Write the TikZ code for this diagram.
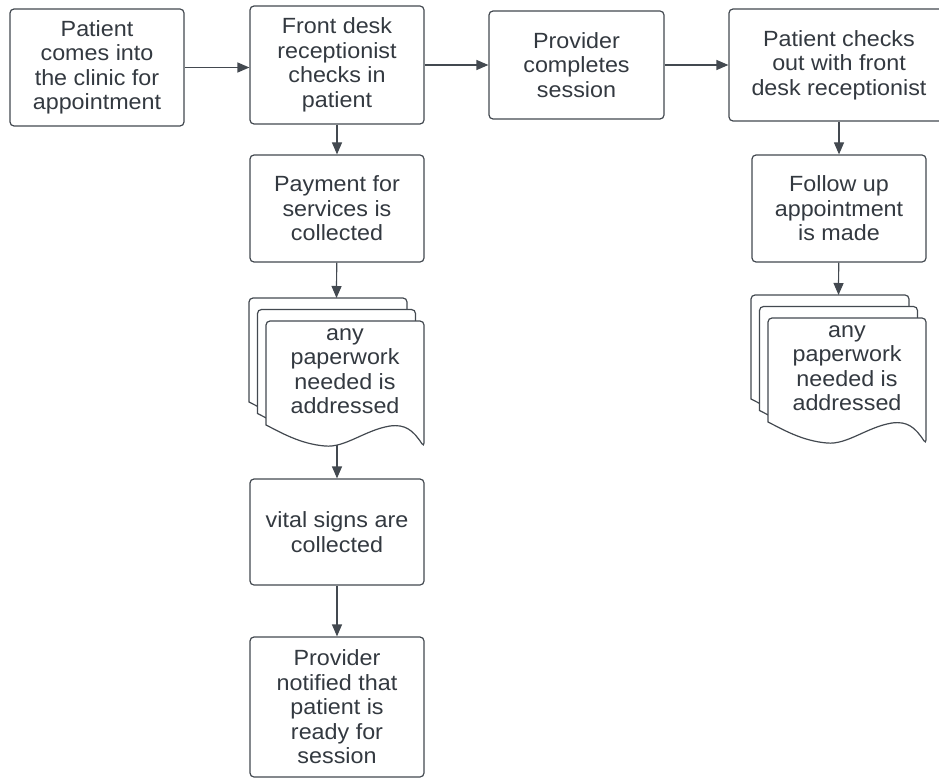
\documentclass[tikz,border=0pt]{standalone}
\usepackage{fontspec}
\setmainfont{Liberation Sans}[FakeStretch=1.06]
\usetikzlibrary{arrows.meta, positioning}

\definecolor{edgegray}{HTML}{434950}
\definecolor{textgray}{HTML}{333940}

\tikzset{
    box/.style = {draw=edgegray, line width=1.2pt, rounded corners=4pt, fill=white,
        align=center, text=textgray, font=\fontsize{22}{24.5}\selectfont, inner sep=0pt,
        minimum width=174pt, minimum height=107pt},
    flow/.style = {draw=edgegray, line width=1.2pt, -{Triangle[length=12pt, width=10pt]}},
    sheet/.style = {draw=edgegray, line width=1.2pt, fill=white},
    papertext/.style = {align=center, text=textgray, font=\fontsize{22}{24.5}\selectfont, inner sep=0pt},
    paperstack/.pic = {
        \foreach \dx/\dy in {-17/23, -8.5/11.5, 0/0}
            \draw [sheet, shift={(\dx,\dy)}] [rounded corners=4pt] (-79,-59) -- (-79,45) -- (79,45) -- (79,-81)
                [sharp corners] .. controls (68,-64) and (60,-58) .. (45,-60)
                .. controls (20,-64) and (0,-82) .. (-20,-80)
                .. controls (-45,-78) and (-65,-66) .. (-79,-59) -- cycle;
        \node (-t) [papertext] at (0,-5) {#1};
        \coordinate (-top) at (-8.5,68);
        \coordinate (-bot) at (-8,-79);
    }
}

\begin{document}
\begin{tikzpicture} [x=1pt, y=1pt, node distance = 143.5pt, on grid]
    \useasboundingbox (0,0) rectangle (939,-778);
    \clip (0,0) rectangle (939,-778);

    \node (arrive) [box, minimum height=117pt] at (97,-67.5) {Patient\\comes into\\the clinic for\\appointment};
    \node (checkin) [box, minimum height=118pt] at (337,-65) {Front desk\\receptionist\\checks in\\patient};
    \node (session) [box, minimum width=175pt, minimum height=108pt] at (576.5,-65) {Provider\\completes\\session};
    \node (checkout) [box, minimum width=220pt, minimum height=112pt] at (839,-65) {Patient checks\\out with front\\desk receptionist};

    \node (pay) [box, below = of checkin] {Payment for\\services is\\collected};
    \pic (d1) at (345,-366) {paperstack={any\\paperwork\\needed is\\addressed}};
    \node (vital) [box, minimum height=106pt] at (337,-532) {vital signs are\\collected};
    \node (notify) [box, minimum height=140pt] at (337,-707) {Provider\\notified that\\patient is\\ready for\\session};

    \node (followup) [box, below = of checkout] {Follow up\\appointment\\is made};
    \pic (d2) at (847,-363) {paperstack={any\\paperwork\\needed is\\addressed}};

    \path [flow] (arrive.east) -- (arrive.east -| checkin.west);
    \path [flow] (checkin) -- (session);
    \path [flow] (session) -- (checkout);
    \path [flow] (checkin) -- (pay);
    \path [flow] (pay) -- (d1-top);
    \path [flow] (d1-bot) -- (vital);
    \path [flow] (vital) -- (notify);
    \path [flow] (checkout) -- (followup);
    \path [flow] (followup) -- (d2-top);
\end{tikzpicture}
\end{document}
